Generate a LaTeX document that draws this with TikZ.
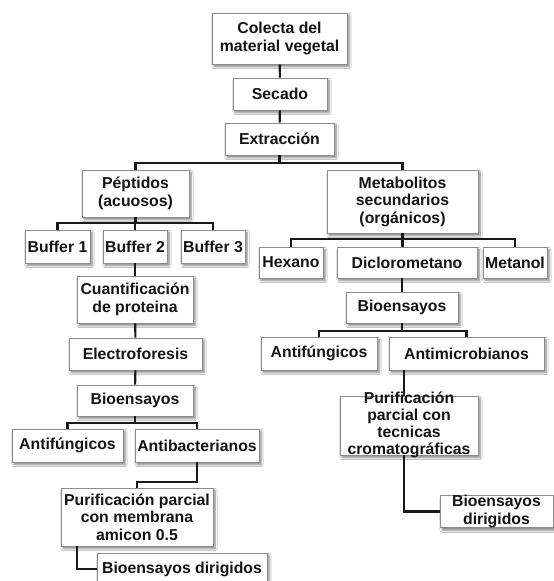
\documentclass[tikz,border=0pt]{standalone}
\usepackage{fontspec}
\setmainfont{Liberation Sans}
\usetikzlibrary{shadows.blur,calc}
\begin{document}
\begin{tikzpicture}[x=1pt,y=-1pt,
  box/.style={draw=black!45, line width=0.6pt, fill=white,
    blur shadow={shadow xshift=2pt, shadow yshift=-2.5pt, shadow blur steps=6, shadow opacity=50},
    align=center, inner sep=0pt, text=black!92,
    font=\fontsize{15.8}{17.5}\selectfont\bfseries},
  plain/.style={align=center, inner sep=0pt, text=black!92,
    font=\fontsize{15.8}{16.8}\selectfont\bfseries},
  conn/.style={line width=2.1pt, black!90}]
\useasboundingbox (0,0) rectangle (554,581);
\fill[white] (0,0) rectangle (554,581);
\clip (0,0) rectangle (554,581);

\node[box, minimum width=135pt, minimum height=51pt] (colecta) at (279.5,38.5) {Colecta del\\material vegetal};
\node[box, minimum width=94pt, minimum height=32pt] (secado) at (280,94) {Secado};
\node[box, minimum width=109pt, minimum height=32pt] (extr) at (279.5,139) {Extracción};
\node[box, minimum width=107pt, minimum height=47pt] (pep) at (135.5,193.5) {Péptidos\\(acuosos)};
\node[box, minimum width=151pt, minimum height=63pt] (met) at (402.5,201.5) {Metabolitos\\secundarios\\(orgánicos)};
\node[box, minimum width=65pt, minimum height=33pt] (b1) at (57.5,246.5) {Buffer 1};
\node[box, minimum width=64pt, minimum height=33pt] (b2) at (135,246.5) {Buffer 2};
\node[box, minimum width=64pt, minimum height=33pt] (b3) at (213,246.5) {Buffer 3};
\node[box, minimum width=64pt, minimum height=31pt] (hex) at (291,262.5) {Hexano};
\node[box, minimum width=140pt, minimum height=31pt] (dcm) at (407,262.5) {Diclorometano};
\node[box, minimum width=64pt, minimum height=31pt] (meoh) at (515,262.5) {Metanol};
\node[box, minimum width=116pt, minimum height=47pt] (cuant) at (135,299.5) {Cuantificación\\de proteina};
\node[box, minimum width=133pt, minimum height=32pt] (electro) at (135.5,354) {Electroforesis};
\node[box, minimum width=116pt, minimum height=31pt] (bioL) at (135,400.5) {Bioensayos};
\node[box, minimum width=112pt, minimum height=31pt] (bioR) at (402,307.5) {Bioensayos};
\node[box, minimum width=111pt, minimum height=33pt] (afL) at (67.5,445.5) {Antifúngicos};
\node[box, minimum width=124pt, minimum height=33pt] (abac) at (197,445.5) {Antibacterianos};
\node[box, minimum width=116pt, minimum height=33pt] (afR) at (319,353.5) {Antifúngicos};
\node[box, minimum width=155pt, minimum height=33pt] (amic) at (466.5,353.5) {Antimicrobianos};
\node[box, minimum width=138pt, minimum height=59pt] (purR) at (409,425.5) {};
\node[plain] (purRtxt) at (409,425) {Purificación\\parcial con\\tecnicas\\cromatográficas};
\node[box, minimum width=113pt, minimum height=31pt] (bdR) at (496.5,511.5) {Bioensayos\\dirigidos};
\node[box, minimum width=152pt, minimum height=58pt] (purL) at (137,517) {Purificación parcial\\con membrana\\amicon 0.5};
\node[box, minimum width=170pt, minimum height=32pt] (bdL) at (182,569) {Bioensayos dirigidos};

\draw[conn] (colecta) -- (secado);
\draw[conn] (secado) -- (extr);
\draw[conn] (extr.south) -- ++(0,8);
\draw[conn] (pep.north) -- ++(0,-7) -| (met.north);
\draw[conn] (pep.south) -- ++(0,6);
\draw[conn] (b1.north) -- ++(0,-7) -| (b3.north);
\draw[conn] (b2.north) -- ++(0,-7);
\draw[conn] (b2) -- (cuant);
\draw[conn] (cuant) -- (electro);
\draw[conn] (electro) -- (bioL);
\draw[conn] (bioL.south) -- ++(0,7);
\draw[conn] (afL.north) -- ++(0,-6) -| (abac.north);
\draw[conn] (met.south) -- ++(0,6);
\draw[conn] (hex.north) -- ++(0,-8) -| (meoh.north);
\draw[conn] (met.south) -- ++(0,14);
\draw[conn] ($(dcm.south)+(-5,0)$) -- (bioR.north);
\draw[conn] (bioR.south) -- ++(0,8);
\draw[conn] (afR.north) -- ++(0,-6) -| (amic.north);
\draw[conn] ($(amic.south west)+(15,0)$) -- ($(purR.north west)+(64,0)$);
\draw[conn] ($(purR.south west)+(64,0)$) |- (bdR.west);
\draw[conn] (abac.south) -- ++(0,20) -| (purL.north);
\draw[conn] ($(purL.south west)+(16,0)$) |- (bdL.west);
\end{tikzpicture}
\end{document}
